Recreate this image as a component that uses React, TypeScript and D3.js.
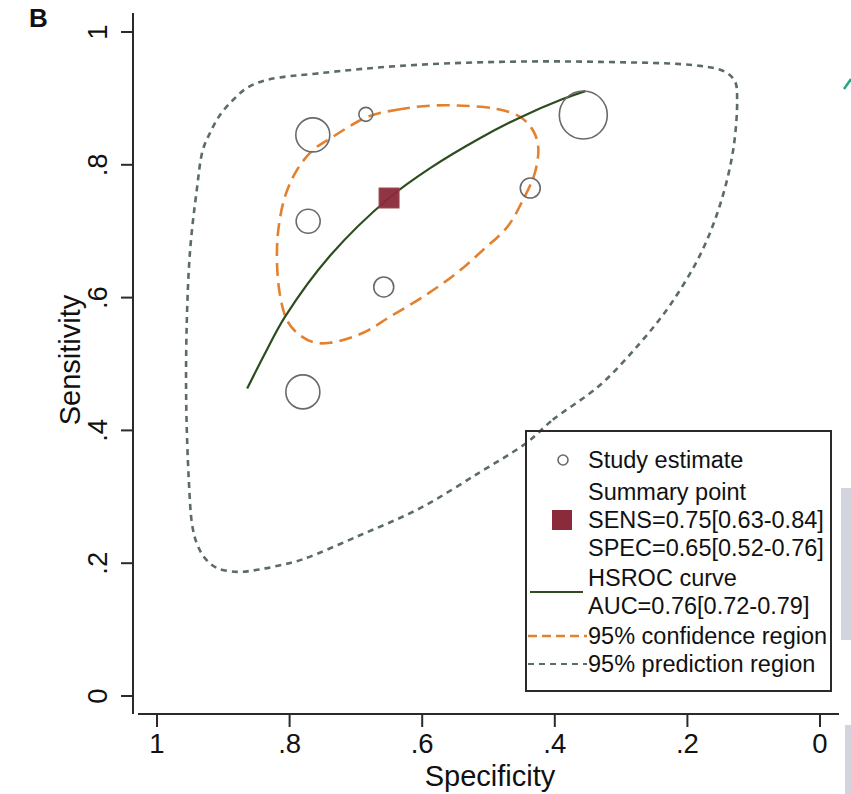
import React from "react";
import * as d3 from "d3";

// Individual study estimates
const studySpec = [0.765, 0.685, 0.357, 0.437, 0.772, 0.658, 0.78];
const studySens = [0.845, 0.876, 0.875, 0.765, 0.715, 0.616, 0.458];
const studyWeight = [289, 49, 576, 100, 144, 100, 289];

// Summary operating point
const summarySpec = 0.65;
const summarySens = 0.75;

// HSROC curve
const hsrocSpec = [0.864, 0.835, 0.807, 0.739, 0.65, 0.588, 0.513, 0.453, 0.388, 0.354];
const hsrocSens = [0.463, 0.52, 0.571, 0.663, 0.75, 0.795, 0.84, 0.871, 0.899, 0.911];

// 95% confidence region
const confSpec = [0.683, 0.638, 0.588, 0.538, 0.487, 0.452, 0.433, 0.425, 0.43, 0.448, 0.472, 0.508, 0.548, 0.599, 0.649, 0.689, 0.739, 0.765, 0.789, 0.804, 0.814, 0.819, 0.817, 0.807, 0.789, 0.765, 0.735];
const confSens = [0.872, 0.883, 0.889, 0.889, 0.884, 0.872, 0.852, 0.827, 0.788, 0.747, 0.706, 0.672, 0.637, 0.601, 0.571, 0.547, 0.532, 0.533, 0.547, 0.566, 0.601, 0.652, 0.702, 0.752, 0.792, 0.822, 0.842];

// 95% prediction region
const predSpec = [0.443, 0.403, 0.332, 0.271, 0.226, 0.181, 0.151, 0.131, 0.125, 0.128, 0.143, 0.181, 0.332, 0.483, 0.633, 0.754, 0.834, 0.864, 0.885, 0.905, 0.92, 0.931, 0.94, 0.95, 0.955, 0.956, 0.952, 0.947, 0.94, 0.928, 0.91, 0.879, 0.849, 0.814, 0.78, 0.694, 0.603, 0.513];
const predSens = [0.381, 0.416, 0.468, 0.532, 0.589, 0.664, 0.739, 0.822, 0.898, 0.925, 0.94, 0.949, 0.955, 0.955, 0.949, 0.938, 0.928, 0.916, 0.898, 0.875, 0.848, 0.822, 0.762, 0.672, 0.566, 0.446, 0.325, 0.258, 0.23, 0.208, 0.193, 0.187, 0.19, 0.197, 0.206, 0.242, 0.283, 0.337];

// Axes
const xTicks = [1, 0.8, 0.6, 0.4, 0.2, 0];
const yTicks = [0, 0.2, 0.4, 0.6, 0.8, 1];
const tickLabel = (v: number) => (v === 0 ? "0" : v === 1 ? "1" : d3.format(".1f")(v).replace(/^0/, ""));

// Legend text
const legendStudy = "Study estimate";
const legendSummary = ["Summary point", "SENS=0.75[0.63-0.84]", "SPEC=0.65[0.52-0.76]"];
const legendCurve = ["HSROC curve", "AUC=0.76[0.72-0.79]"];
const legendConf = "95% confidence region";
const legendPred = "95% prediction region";

const FONT = "'Liberation Sans', Arial, Helvetica, sans-serif";
const ORANGE = "#e3812f";
const GREYDASH = "#5b6b69";
const GREEN = "#2d4d20";
const MAROON = "#8a2a3a";
const CIRCLE = "#6a6a6a";
const AXIS = "#2a2a2a";
const INK = "#111";

export default function App() {
  const W = 851;
  const H = 794;
  const x = d3.scaleLinear().domain([1, 0]).range([157, 820]);
  const y = d3.scaleLinear().domain([0, 1]).range([696, 32]);
  const r = d3.scaleSqrt().domain([0, d3.max(studyWeight) as number]).range([0, 24]);

  const closed = d3
    .line<[number, number]>()
    .x((d) => x(d[0]))
    .y((d) => y(d[1]))
    .curve(d3.curveCatmullRomClosed.alpha(0.5));
  const open = d3
    .line<[number, number]>()
    .x((d) => x(d[0]))
    .y((d) => y(d[1]))
    .curve(d3.curveCatmullRom.alpha(0.5));

  const confPts = confSpec.map((s, i) => [s, confSens[i]] as [number, number]);
  const predPts = predSpec.map((s, i) => [s, predSens[i]] as [number, number]);
  const hsrocPts = hsrocSpec.map((s, i) => [s, hsrocSens[i]] as [number, number]);

  const axisY = 714;
  const axisX = 133;
  const lx = 526;
  const ly = 431;
  const lw = 305;
  const lh = 260;
  const tx = 588;
  const fs = 23.5;
  const rowY = [460, 492, 520, 548, 578, 606, 636, 664];
  const base = (cy: number) => cy + fs * 0.36;

  return (
    <svg
      width={W}
      height={H}
      viewBox={`0 0 ${W} ${H}`}
      style={{ position: "absolute", left: 0, top: 0, background: "#fff" }}
      fontFamily={FONT}
    >
      <rect x={0} y={0} width={W} height={H} fill="#fff" />

      {/* panel letter */}
      <text x={29} y={27} fontSize={26} fontWeight="bold" fill={INK}>B</text>

      {/* y axis */}
      <line x1={axisX} x2={axisX} y1={13} y2={axisY} stroke={AXIS} strokeWidth={2} />
      {yTicks.map((t) => (
        <g key={"yt" + t}>
          <line x1={axisX - 12} x2={axisX} y1={y(t)} y2={y(t)} stroke={AXIS} strokeWidth={2} />
          <text
            transform={`translate(107,${y(t)}) rotate(-90)`}
            textAnchor="middle"
            fontSize={27.5}
            fill={INK}
          >
            {tickLabel(t)}
          </text>
        </g>
      ))}
      <text transform={`translate(80,360) rotate(-90)`} textAnchor="middle" fontSize={29} fill={INK}>
        Sensitivity
      </text>

      {/* x axis */}
      <line x1={138} x2={839} y1={axisY} y2={axisY} stroke={AXIS} strokeWidth={2} />
      {xTicks.map((t) => (
        <g key={"xt" + t}>
          <line x1={x(t)} x2={x(t)} y1={axisY} y2={axisY + 13} stroke={AXIS} strokeWidth={2} />
          <text x={x(t)} y={753} textAnchor="middle" fontSize={27.5} fill={INK}>
            {tickLabel(t)}
          </text>
        </g>
      ))}
      <text x={490} y={786} textAnchor="middle" fontSize={29} fill={INK}>
        Specificity
      </text>

      {/* prediction region */}
      <path d={closed(predPts) as string} fill="none" stroke={GREYDASH} strokeWidth={2.6} strokeDasharray="6 5" />

      {/* confidence region */}
      <path d={closed(confPts) as string} fill="none" stroke={ORANGE} strokeWidth={2.6} strokeDasharray="13 7" />

      {/* HSROC curve */}
      <path d={open(hsrocPts) as string} fill="none" stroke={GREEN} strokeWidth={2.2} />

      {/* study estimates */}
      {studySpec.map((s, i) => (
        <circle
          key={"st" + i}
          cx={x(s)}
          cy={y(studySens[i])}
          r={r(studyWeight[i])}
          fill="none"
          stroke={CIRCLE}
          strokeWidth={1.6}
        />
      ))}

      {/* summary point */}
      <rect
        x={x(summarySpec) - 10}
        y={y(summarySens) - 10}
        width={20}
        height={20}
        fill={MAROON}
        fillOpacity={0.95}
        stroke="#9b4a50"
        strokeWidth={1}
      />

      {/* legend */}
      <rect x={lx} y={ly} width={lw} height={lh} fill="none" stroke={AXIS} strokeWidth={2} />
      <circle cx={563} cy={rowY[0]} r={5} fill="none" stroke={CIRCLE} strokeWidth={1.6} />
      <text x={tx} y={base(rowY[0])} fontSize={fs} fill={INK}>{legendStudy}</text>
      <rect x={552} y={rowY[2] - 10} width={20} height={20} fill={MAROON} />
      {legendSummary.map((t, i) => (
        <text key={"ls" + i} x={tx} y={base(rowY[1 + i])} fontSize={fs} fill={INK}>{t}</text>
      ))}
      <line x1={530} x2={583} y1={(rowY[4] + rowY[5]) / 2} y2={(rowY[4] + rowY[5]) / 2} stroke={GREEN} strokeWidth={2.2} />
      {legendCurve.map((t, i) => (
        <text key={"lc" + i} x={tx} y={base(rowY[4 + i])} fontSize={fs} fill={INK}>{t}</text>
      ))}
      <line x1={528} x2={587} y1={rowY[6]} y2={rowY[6]} stroke={ORANGE} strokeWidth={2.5} strokeDasharray="9 5" />
      <text x={tx} y={base(rowY[6])} fontSize={fs} fill={INK}>{legendConf}</text>
      <line x1={528} x2={587} y1={rowY[7]} y2={rowY[7]} stroke={GREYDASH} strokeWidth={2.2} strokeDasharray="6 5" />
      <text x={tx} y={base(rowY[7])} fontSize={fs} fill={INK}>{legendPred}</text>

      {/* edge fragments of the neighbouring panel */}
      <line x1={844} y1={89} x2={851} y2={79} stroke="#2aa58a" strokeWidth={2.5} />
      <rect x={841} y={488} width={10} height={152} fill="#d3d5de" />
      <rect x={845} y={725} width={6} height={69} fill="#d3d5de" />
    </svg>
  );
}
